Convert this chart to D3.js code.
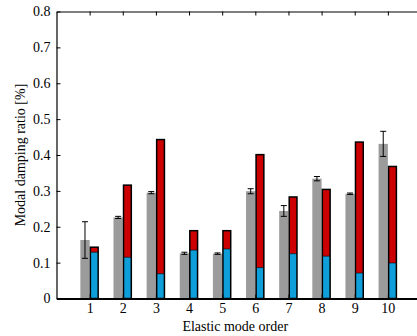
<!DOCTYPE html>
<html>
<head>
<meta charset="utf-8">
<script src="https://cdn.jsdelivr.net/npm/d3@7"></script>
<style>
	body {margin: 0; background: #fff;}
	svg {display: block; font-family: 'Liberation Serif', 'DejaVu Serif', serif;}
</style>
</head>
<body>
<div id="chart"></div>
<script>
// mode order, measured (gray, with spread) and computed (stacked blue + red) damping
var modes = [1, 2, 3, 4, 5, 6, 7, 8, 9, 10];
var measured = [0.163, 0.226, 0.295, 0.126, 0.125, 0.299, 0.244, 0.334, 0.292, 0.431];
var measuredErr = [0.051, 0.003, 0.003, 0.003, 0.002, 0.007, 0.015, 0.006, 0.002, 0.035];
var computedLow = [0.129, 0.115, 0.069, 0.135, 0.138, 0.086, 0.125, 0.118, 0.071, 0.099];
var computedTotal = [0.143, 0.316, 0.443, 0.189, 0.189, 0.401, 0.283, 0.304, 0.436, 0.368];
var yTicks = [0, 0.1, 0.2, 0.3, 0.4, 0.5, 0.6, 0.7, 0.8];

var W = 417, H = 336,
	pad = {top: 11.5, left: 56.5, right: 421, bottom: 298.5};

var svg = d3.select('#chart').append('svg')
	.attr('width', W).attr('height', H);

var x = d3.scaleLinear().domain([0, 11]).range([pad.left, pad.right]),
	y = d3.scaleLinear().domain([0, 0.8]).range([pad.bottom, pad.top]),
	bw = x(0.28) - x(0);

var g = svg.append('g');

// gray measured bars
g.selectAll('rect.meas').data(modes).enter().append('rect')
	.attr('class', 'meas')
	.attr('x', function (d) {return x(d) - bw;})
	.attr('width', bw)
	.attr('y', function (d, i) {return y(measured[i]);})
	.attr('height', function (d, i) {return y(0) - y(measured[i]);})
	.attr('fill', '#9b9b9b');

// error bars
var eb = g.selectAll('g.err').data(modes).enter().append('g')
	.attr('class', 'err')
	.attr('stroke', '#000').attr('stroke-width', 1);
eb.append('line')
	.attr('x1', function (d) {return x(d) - bw/2;})
	.attr('x2', function (d) {return x(d) - bw/2;})
	.attr('y1', function (d, i) {return y(measured[i] + measuredErr[i]);})
	.attr('y2', function (d, i) {return y(measured[i] - measuredErr[i]);});
[1, -1].forEach(function (s) {
	eb.append('line')
		.attr('x1', function (d) {return x(d) - bw/2 - 3;})
		.attr('x2', function (d) {return x(d) - bw/2 + 3;})
		.attr('y1', function (d, i) {return y(measured[i] + s*measuredErr[i]);})
		.attr('y2', function (d, i) {return y(measured[i] + s*measuredErr[i]);});
});

// stacked computed bars: red total, blue lower part
var cb = g.selectAll('g.comp').data(modes).enter().append('g').attr('class', 'comp');
cb.append('rect')
	.attr('x', function (d) {return x(d) + 0.75;})
	.attr('width', bw - 1.5)
	.attr('y', function (d, i) {return y(computedTotal[i]);})
	.attr('height', function (d, i) {return y(0) - y(computedTotal[i]);})
	.attr('fill', '#cc0000');
cb.append('rect')
	.attr('x', function (d) {return x(d) + 0.75;})
	.attr('width', bw - 1.5)
	.attr('y', function (d, i) {return y(computedLow[i]);})
	.attr('height', function (d, i) {return y(0) - y(computedLow[i]);})
	.attr('fill', '#0e9fdb');
cb.append('rect')
	.attr('x', function (d) {return x(d) + 0.75;})
	.attr('width', bw - 1.5)
	.attr('y', function (d, i) {return y(computedTotal[i]);})
	.attr('height', function (d, i) {return y(0) - y(computedTotal[i]);})
	.attr('fill', 'none').attr('stroke', '#000').attr('stroke-width', 1.5);
cb.append('line')
	.attr('x1', function (d) {return x(d) + 0.75;})
	.attr('x2', function (d) {return x(d) + bw - 0.75;})
	.attr('y1', function (d, i) {return y(computedLow[i]);})
	.attr('y2', function (d, i) {return y(computedLow[i]);})
	.attr('stroke', '#000').attr('stroke-width', 0.6);

// axes, ticks pointing inward
var fmt = function (d) {return d === 0 ? '0' : d3.format('.1f')(d);};
var axB = svg.append('g').attr('transform', 'translate(0,' + pad.bottom + ')')
	.call(d3.axisBottom(x).tickValues(modes).tickSizeInner(-4).tickSizeOuter(0).tickPadding(5));
var axT = svg.append('g').attr('transform', 'translate(0,' + pad.top + ')')
	.call(d3.axisTop(x).tickValues(modes).tickSizeInner(-4).tickSizeOuter(0).tickFormat(''));
var axL = svg.append('g').attr('transform', 'translate(' + pad.left + ',0)')
	.call(d3.axisLeft(y).tickValues(yTicks).tickFormat(fmt).tickSizeInner(-4).tickSizeOuter(0).tickPadding(6));
var axR = svg.append('g').attr('transform', 'translate(' + pad.right + ',0)')
	.call(d3.axisRight(y).tickValues(yTicks).tickSizeInner(-4).tickSizeOuter(0).tickFormat(''));

[axB, axT, axL, axR].forEach(function (a) {
	a.select('.domain').attr('stroke', '#000').attr('stroke-width', 1.2);
	a.selectAll('.tick line').attr('stroke', '#000').attr('stroke-width', 1);
	a.selectAll('text').attr('font-family', "'Liberation Serif', serif").attr('font-size', 14).attr('fill', '#000');
});
axB.select('.domain').attr('stroke-width', 2);

svg.append('text')
	.attr('x', (pad.left + 388) / 2 + 13).attr('y', 331)
	.attr('text-anchor', 'middle')
	.attr('font-size', 14)
	.text('Elastic mode order');

svg.append('text')
	.attr('transform', 'translate(25,' + (pad.top + pad.bottom) / 2 + ') rotate(-90)')
	.attr('text-anchor', 'middle')
	.attr('font-size', 14)
	.text('Modal damping ratio [%]');
</script>
</body>
</html>
